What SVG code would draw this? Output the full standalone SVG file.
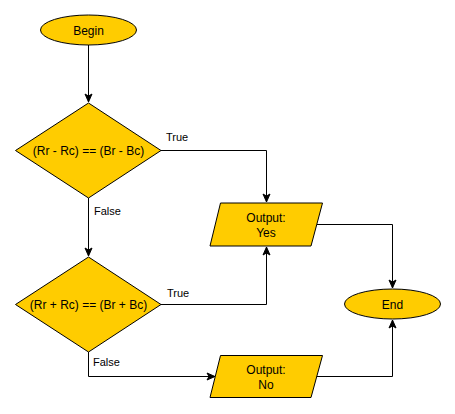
<svg xmlns="http://www.w3.org/2000/svg" width="455" height="414" viewBox="0 0 455 414">
<style>
.shape{fill:#ffcc00;stroke:#000;stroke-width:1}
.t{font-family:"Liberation Sans",Arial,sans-serif;font-size:12px;fill:#000;text-anchor:middle}
.lbl{font-family:"Liberation Sans",Arial,sans-serif;font-size:11px;fill:#000}
.edge{fill:none;stroke:#000;stroke-width:1}
</style>
<defs>
<marker id="arr" markerUnits="userSpaceOnUse" markerWidth="10" markerHeight="10" viewBox="0 0 10 10" refX="9" refY="5" orient="auto">
<path d="M1,1.5 L9,5 L1,8.5 L3,5 Z" fill="#000" stroke="#000" stroke-width="1"/>
</marker>
</defs>
<rect width="455" height="414" fill="#fff"/>
<g id="connectors">
<path class="edge" d="M88.5,45 V102" marker-end="url(#arr)"/>
<path class="edge" d="M88.5,198 V256" marker-end="url(#arr)"/>
<path class="edge" d="M161,150.5 H266.5 V202" marker-end="url(#arr)"/>
<path class="edge" d="M161,304.5 H266.5 V247" marker-end="url(#arr)"/>
<path class="edge" d="M88.5,352 V376.5 H215" marker-end="url(#arr)"/>
<path class="edge" d="M317,224.5 H392.5 V288" marker-end="url(#arr)"/>
<path class="edge" d="M316,376.5 H392.5 V320" marker-end="url(#arr)"/>
<text class="lbl" x="166" y="141">True</text>
<text class="lbl" x="94" y="215">False</text>
<text class="lbl" x="167" y="297">True</text>
<text class="lbl" x="93" y="366">False</text>
</g>
<g id="begin">
<ellipse class="shape" cx="88.5" cy="30" rx="48" ry="15"/>
<text class="t" x="88.5" y="34.5">Begin</text>
</g>
<g id="cond1">
<polygon class="shape" points="88.5,103 161,150.5 88.5,198 15.5,150.5"/>
<text class="t" x="88.5" y="155">(Rr - Rc) == (Br - Bc)</text>
</g>
<g id="cond2">
<polygon class="shape" points="88.5,257 161,304.5 88.5,352 15.5,304.5"/>
<text class="t" x="88.5" y="309">(Rr + Rc) == (Br + Bc)</text>
</g>
<g id="outYes">
<polygon class="shape" points="220.5,203 322.5,203 311,246 210,246"/>
<text class="t" x="266" y="222">Output:</text>
<text class="t" x="266" y="237">Yes</text>
</g>
<g id="outNo">
<polygon class="shape" points="220.5,355.5 322.5,355.5 311,397.5 210,397.5"/>
<text class="t" x="266" y="374">Output:</text>
<text class="t" x="266" y="389">No</text>
</g>
<g id="end">
<ellipse class="shape" cx="392.5" cy="304" rx="48" ry="15"/>
<text class="t" x="392.5" y="308.5">End</text>
</g>
</svg>
